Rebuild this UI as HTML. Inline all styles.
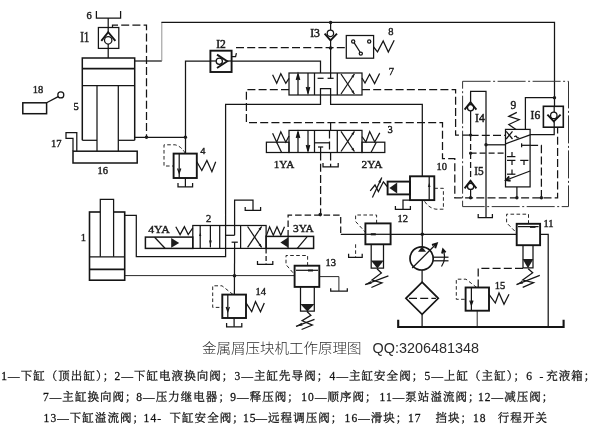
<!DOCTYPE html>
<html lang="zh">
<head>
<meta charset="utf-8">
<title>金属屑压块机工作原理图</title>
<style>
html,body{margin:0;padding:0;background:#fff;}
body{width:600px;height:437px;overflow:hidden;position:relative;}
svg{position:absolute;left:0;top:0;display:block;will-change:transform;}
svg *{vector-effect:none;}
.l{fill:none;stroke:#151515;stroke-width:1.25;stroke-linecap:butt;stroke-linejoin:miter;}
.k{stroke-width:1.9;}
.kk{stroke-width:2.1;}
.th{stroke-width:.95;stroke:#1c1c1c;}
.lt{stroke-width:.8;stroke:#777;}
.i{font-size:13px;stroke-width:.5;}
.ds{stroke-dasharray:3.6 2.4;}
.d{stroke-dasharray:8 3.2;}
.dd{stroke-dasharray:28 2.5 2 2.5;stroke-width:1;stroke:#333;}
.f{fill:#1c1c1c;stroke:none;}
.w{fill:#fff;}
text{fill:#1c1c1c;font-family:"Liberation Serif","Noto Serif CJK SC",serif;font-size:10.5px;stroke:#1c1c1c;stroke-width:.4;}
.cap{font-family:"Liberation Sans","Noto Sans CJK SC",sans-serif;font-size:13.5px;font-weight:300;fill:#2a2a2a;stroke:none;}
.lg{font-family:"Liberation Serif","Noto Serif CJK SC",serif;font-size:11.5px;letter-spacing:1.05px;fill:#111;stroke:#111;stroke-width:.26;}
</style>
</head>
<body>
<svg width="600" height="437" viewBox="0 0 600 437">
<rect x="0" y="0" width="600" height="437" fill="#fff"/>

<!-- ===== upper cylinder 5, tank 6, check valve I1 ===== -->
<g class="l">
<polyline points="96.4,11 96.4,18 120.6,18 120.6,11"/>
<line x1="108.2" y1="18" x2="108.2" y2="32.5"/>
<rect x="98.4" y="27.5" width="20.4" height="20.9"/>
<circle cx="108.2" cy="40.3" r="3.7" class="w"/>
<polyline class="k" points="101.3,40.8 108.2,32.2 115.4,40.8"/>
<line x1="108.2" y1="44" x2="108.2" y2="58"/>
<polyline class="d" points="112.5,27.7 112.5,25.2 146.5,25.2 146.5,137.3"/>
<!-- cylinder -->
<polyline points="82.3,140.3 82.3,58 134.7,58 134.7,140.3" style="stroke-width:1.5"/>
<line class="k" x1="82.3" y1="68.6" x2="134.7" y2="68.6"/>
<line x1="82.3" y1="85.6" x2="134.7" y2="85.6"/>
<line x1="97" y1="85.6" x2="97" y2="151"/>
<line x1="118.3" y1="85.6" x2="118.3" y2="151"/>
<line x1="82.3" y1="140.3" x2="97" y2="140.3"/>
<line x1="118.3" y1="140.3" x2="134.7" y2="140.3"/>
<rect x="73" y="151.2" width="64.2" height="11.8" style="stroke-width:1.5"/>
<polyline points="73,151 73,138.3 66,138.3 66,132.7 76.8,132.7 76.8,151"/>
<!-- 18 limit switch -->
<rect x="22.8" y="102.8" width="23.8" height="10.9" style="stroke-width:1.5"/>
<line x1="46.6" y1="102.8" x2="58.2" y2="96.6"/>
<circle cx="60.8" cy="94.9" r="3"/>
<!-- pipes from cylinder -->
<line x1="134.7" y1="61" x2="161.8" y2="61"/>
<line class="lt" x1="161.8" y1="61" x2="161.8" y2="22.4"/>
<polyline points="161.4,22.4 554.5,22.4 554.5,106.4"/>
<line x1="134.7" y1="137.3" x2="185.4" y2="137.3"/>
<polyline points="185.5,153.6 185.5,61 320.5,61 320.5,73"/>
</g>
<circle class="f" cx="146.5" cy="137.3" r="1.7"/>
<circle class="f" cx="185.4" cy="137.3" r="1.7"/>
<circle class="f" cx="330.6" cy="22.5" r="1.7"/>
<circle class="f" cx="554.5" cy="97.7" r="1.7"/>

<!-- ===== I2 ===== -->
<g class="l">
<rect class="k w" x="210.4" y="50.7" width="21.2" height="21.3"/>
<line x1="210.4" y1="61" x2="216.2" y2="61"/>
<line x1="227" y1="61" x2="231.6" y2="61"/>
<circle cx="219.3" cy="61.2" r="3.1"/>
<polyline class="k" points="217,54.6 227.2,61.2 217,68"/>
<polyline points="231.6,56.6 235.6,56.6 236.4,53.2"/>
<line class="d" x1="236" y1="47.5" x2="346" y2="47.5"/>
</g>

<!-- ===== valve 4 (safety) ===== -->
<g class="l">
<rect class="k" x="173.6" y="153.6" width="23.2" height="24.4"/>
<line x1="179.2" y1="153.6" x2="179.2" y2="178"/>
<polyline points="177.6,168.5 179.2,173 180.8,168.5"/>
<path class="ds th" d="M185.4,153.4 Q181,146 175,144.8 L164,144.8 L164,166 L173.6,166"/>
<line x1="185.4" y1="178" x2="185.4" y2="186.9"/>
<polyline points="178,183 178,186.9 192.6,186.9 192.6,183"/>
<polyline points="196.8,161.7 201.8,170.5 206.9,160.4 211.9,171.7 215.7,161.7"/>
</g>

<!-- ===== I3, pressure relay 8 ===== -->
<g class="l">
<line x1="330.6" y1="22.5" x2="330.6" y2="30"/>
<circle cx="330.4" cy="33.3" r="3.2"/>
<polyline class="k" points="324.6,33.6 330.5,40.4 337,33.6"/>
<line x1="330.6" y1="40.3" x2="330.6" y2="78.3"/>
<rect x="346.3" y="35.5" width="27.3" height="22.7"/>
<circle cx="353.2" cy="41.4" r="1.6"/>
<circle cx="369.2" cy="41.4" r="1.6"/>
<circle cx="360.8" cy="53.6" r="1.6"/>
<line x1="354.2" y1="42.8" x2="360" y2="52"/>
<polyline points="373.6,47 377.5,51.8 383.2,41 388.3,52 394.2,40.2"/>
</g>
<circle class="f" cx="330.6" cy="48" r="1.8"/>

<!-- ===== valve 7 ===== -->
<g class="l">
<rect x="289" y="73" width="73" height="22"/>
<line x1="314.5" y1="73" x2="314.5" y2="95"/>
<line x1="337.3" y1="73" x2="337.3" y2="95"/>
<line x1="298" y1="74.5" x2="298" y2="95"/>
<line x1="308" y1="73" x2="308" y2="93.5"/>
<polyline class="k" points="296.6,80 298,75 299.4,80"/>
<polyline class="k" points="306.6,87 308,92 309.4,87"/>
<line x1="317.6" y1="78.3" x2="323.6" y2="78.3"/>
<line x1="327.6" y1="78.3" x2="333.6" y2="78.3"/>
<polyline points="320.5,95 320.5,88.6 330.6,88.6 330.6,95"/>
<line x1="341" y1="74" x2="354.4" y2="94"/>
<line x1="354.4" y1="74" x2="341" y2="94"/>
<polygon class="f" points="354.4,74.0 351.3,76.3 353.5,77.7"/>
<polygon class="f" points="354.4,94.0 353.5,90.3 351.3,91.7"/>
<polyline points="272.6,74.8 276.7,83.3 280.8,73.7 285.8,83.3 289,78.3"/>
<polyline points="362,78 365,83 369.6,74.3 374.6,83.6 379.6,73.5"/>
<polyline points="320.5,95 320.5,104.4 225.6,104.4 225.6,256.7 136.3,256.7 136.3,215.3 124.7,215.3"/>
<polyline points="330.6,95 330.6,104.4 422.3,104.4 422.3,176.4"/>
<!-- pilot lines -->
<polyline class="d" points="289,89.5 246.4,89.5 246.4,122.7 442.5,122.7 442.5,158.7 454.8,158.7 454.8,197.8 557.6,197.8 557.6,127"/>
<polyline class="d" points="362,89.5 455.6,89.5 455.6,135 470.6,135"/>
<line class="d" x1="330.6" y1="122.7" x2="330.6" y2="130.4"/>
</g>

<!-- ===== valve 3 ===== -->
<g class="l">
<rect x="289" y="130.4" width="73" height="22.1"/>
<line x1="314.5" y1="130.4" x2="314.5" y2="152.5"/>
<line x1="337.3" y1="130.4" x2="337.3" y2="152.5"/>
<line x1="298" y1="132" x2="298" y2="152.5"/>
<line x1="308" y1="130.4" x2="308" y2="151"/>
<polyline class="k" points="296.6,138 298,133 299.4,138"/>
<polyline class="k" points="306.6,145 308,150 309.4,145"/>
<line x1="314.5" y1="142.8" x2="329.5" y2="142.8"/>
<line class="d" x1="329.5" y1="130.4" x2="329.5" y2="152.5"/>
<line x1="318" y1="147" x2="323.2" y2="147"/>
<line x1="320.6" y1="147" x2="320.6" y2="152.5"/>
<line x1="341" y1="131.4" x2="354.4" y2="151.5"/>
<line x1="354.4" y1="131.4" x2="341" y2="151.5"/>
<polygon class="f" points="354.4,131.4 351.3,133.7 353.5,135.1"/>
<polygon class="f" points="354.4,151.5 353.5,147.8 351.3,149.2"/>
<rect x="266.4" y="142.2" width="22.6" height="10.3"/>
<rect x="362" y="142.2" width="22.8" height="10.3"/>
<polyline points="272.6,133.2 276.7,142.2 280.8,131.8 285.8,142.2 289,136"/>
<line x1="276.7" y1="142.2" x2="281.6" y2="152.5"/>
<polyline points="362,136.6 365.9,142 369.7,131.6 374.7,142 379.8,132.9"/>
<line x1="376.3" y1="142.2" x2="371" y2="152.5"/>
<line class="d" x1="320.6" y1="152.5" x2="320.6" y2="214.5"/>
<line class="d" x1="330.6" y1="152.5" x2="330.6" y2="166.9"/>
<polyline points="323,163 323,166.9 338.2,166.9 338.2,163"/>
</g>
<circle class="f" cx="320.3" cy="214.6" r="1.8"/>

<!-- ===== valve 10 (sequence) ===== -->
<g class="l">
<rect class="k" x="410" y="176.3" width="24.3" height="23.8"/>
<line x1="429.2" y1="176.3" x2="429.2" y2="200.1"/>
<polygon class="f" points="427.9,187 430.5,187 429.2,182.6"/>
<line x1="422.3" y1="200.1" x2="422.3" y2="247"/>
<rect class="k" x="387.6" y="181.6" width="22.4" height="12.8"/>
<polygon class="f" points="389.4,188 397.2,182.4 397.2,193.6"/>
<polyline points="387.6,187 383.4,181.8 378.4,191.6 375,185 370.2,190.8"/>
<line x1="381.8" y1="177.4" x2="372.4" y2="197.6"/>
<polygon class="f" points="381.8,177.4 378.3,181.8 380.7,182.9"/>
<polyline points="410,200.1 403,200.1 403,209.3"/>
<polyline points="395.4,206 395.4,209.3 410.4,209.3 410.4,206"/>
<path class="ds th" d="M434.3,188.3 L443.4,188.3 L443.4,209.2 L436,209.2 Q428.6,208 424.4,201"/>
</g>
<circle class="f" cx="422.3" cy="234.3" r="1.8"/>

<!-- ===== right block: I4 I5 9 I6 ===== -->
<g class="l">
<rect class="dd" x="462.6" y="81.3" width="105.9" height="125.3"/>
<polyline points="470.6,102.2 470.6,91.3 486,91.3 486,217.5"/>
<circle cx="470.6" cy="107.7" r="3.1"/>
<polyline class="k" points="464.6,109.6 470.5,102.2 476.4,109.6"/>
<line x1="470.6" y1="110.8" x2="470.6" y2="135"/>
<line class="d" x1="470.6" y1="135" x2="470.6" y2="180.6" style="stroke-dasharray:6 3"/>
<circle cx="470.6" cy="186.4" r="3.1"/>
<polyline class="k" points="464.6,188.3 470.5,180.8 476.4,188.3"/>
<line x1="470.6" y1="189.5" x2="470.6" y2="197.8"/>
<line x1="486" y1="144.8" x2="505.5" y2="144.8"/>
<line class="d" x1="470.6" y1="153.2" x2="505.5" y2="153.2" style="stroke-dasharray:6 3"/>
<line class="d" x1="470.6" y1="135.3" x2="505.5" y2="135.3"/>
<polyline points="478.2,214 478.2,217.5 492.4,217.5 492.4,214"/>
<!-- valve 9 -->
<rect x="505.5" y="129.4" width="24.6" height="57.5"/>
<polyline points="516,129.4 508.8,124.5 519.2,119.7 508.8,116.4 516.8,112.4"/>
<line x1="505.6" y1="143.8" x2="530.1" y2="134.9"/>
<line x1="506.2" y1="131.3" x2="512.5" y2="139"/>
<line x1="512.5" y1="131.3" x2="506.2" y2="139"/>
<path d="M514.2,136.8 Q516.6,135.2 517,137.6 L519.2,138"/>
<line x1="521.6" y1="143.3" x2="521.6" y2="147.3"/>
<line x1="521.6" y1="145.3" x2="530.1" y2="145.3"/>
<line x1="512" y1="152" x2="512" y2="156.6"/><line x1="507" y1="156.6" x2="515.4" y2="156.6"/>
<line x1="512" y1="160.4" x2="512" y2="165"/><line x1="507" y1="160.4" x2="515.4" y2="160.4"/>
<line x1="524" y1="160.4" x2="524" y2="165"/><line x1="520.2" y1="160.4" x2="528.4" y2="160.4"/>
<line x1="512" y1="169.6" x2="512" y2="174.2"/><line x1="507" y1="174.2" x2="515.4" y2="174.2"/>
<line x1="505.6" y1="180.2" x2="530.1" y2="171"/>
<polyline class="k" points="509.2,176.4 506,180 510.6,180.8"/>
<line x1="516.9" y1="186.9" x2="516.9" y2="197.8"/>
<polyline class="d" points="530.1,145.3 541.4,145.3 541.4,197.8"/>
<!-- I6 -->
<polyline points="525.4,129.4 525.4,97.7 554.3,97.7"/>
<rect class="w" x="543.4" y="106.3" width="19.9" height="20.9" style="stroke-width:1.6"/>
<line x1="554.2" y1="106.3" x2="554.2" y2="112"/>
<circle cx="553.8" cy="115.4" r="3.2"/>
<polyline class="k" points="547.4,114.6 553.8,121.4 560.6,114.6"/>
<polyline points="554.2,121.4 554.2,134.7 530.1,134.7"/>
</g>
<circle class="f" cx="470.6" cy="135" r="1.6"/>
<circle class="f" cx="470.6" cy="153.2" r="1.6"/>
<circle class="f" cx="486" cy="144.8" r="1.7"/>
<circle class="f" cx="470.6" cy="197.8" r="1.7"/>
<circle class="f" cx="516.9" cy="197.8" r="1.7"/>
<circle class="f" cx="541.4" cy="197.8" r="1.7"/>

<!-- ===== valve 11 (right relief) ===== -->
<g class="l">
<line x1="340.8" y1="234.3" x2="516.7" y2="234.3"/>
<rect class="k w" x="516.7" y="223.8" width="23.4" height="21.4"/>
<line x1="518" y1="226.6" x2="538.6" y2="226.6"/>
<line class="k" x1="530" y1="226.9" x2="535.5" y2="226.9"/>
<polyline class="ds th" points="528.5,223.8 528.5,214.2 506.6,214.2 506.6,222.8 516.7,233"/>
<polyline points="540.1,234.3 548.2,234.3 548.2,326.5"/>
<polyline points="523,245.2 523,267.8 533,267.8 533,245.2"/>
<polygon class="f" points="522.6,259 533.4,259 528,268.2"/>
<polyline points="528.2,268.8 532.7,272.8 522.7,280 533.6,282.6 522.7,287.4"/>
<line x1="516.5" y1="284.6" x2="539.8" y2="275.4"/>
<polygon class="f" points="516.5,284.6 523.1,283.6 522.0,280.8"/>
<polyline class="d" points="523,268.4 478.2,268.4 478.2,287.5"/>
</g>

<!-- ===== valve 15 ===== -->
<g class="l">
<rect class="k" x="465.6" y="287.5" width="23.4" height="23.2"/>
<line x1="471.4" y1="287.5" x2="471.4" y2="310.7"/>
<polyline points="469.8,300.5 471.4,305 473,300.5"/>
<path class="ds th" d="M476.6,287.4 L466,279.2 L456.3,279.2 L456.3,299.3 L465.6,299.3"/>
<polyline points="489,294.3 495.3,303 499,293 504,304.3 509,294.3"/>
<line class="th" x1="477.2" y1="310.7" x2="477.2" y2="326.5"/>
<polyline class="kk" points="398.2,319.8 398.2,327 563.6,327 563.6,319.8"/>
</g>

<!-- ===== pump + filter ===== -->
<g class="l">
<circle class="w" cx="421.6" cy="258.4" r="11.6" style="stroke-width:1.7"/>
<polygon class="f" points="422,246.4 418,251.8 426,251.8"/>
<line x1="412.2" y1="268" x2="436.4" y2="243.8"/>
<polyline class="k" points="432,245 436.8,243.4 435.2,248.2"/>
<line x1="433.2" y1="257.2" x2="448.5" y2="257.2"/>
<line x1="433.2" y1="260.8" x2="448.5" y2="260.8"/>
<path d="M441.5,266.5 Q446.5,259 443.2,250"/>
<polyline class="k" points="442,253.4 443,249.4 445.6,252.4"/>
<line x1="422.1" y1="270.1" x2="422.1" y2="282.2"/>
<polygon points="422.1,282.2 438.3,298.3 422.1,314.4 405.9,298.3" style="stroke-width:1.7"/>
<line class="d" x1="409" y1="298.3" x2="436" y2="298.3"/>
<line x1="422.1" y1="314.4" x2="422.1" y2="326.5"/>
</g>

<!-- ===== valve 12 (middle) ===== -->
<g class="l">
<rect class="k w" x="365.4" y="223.4" width="25.2" height="20.9"/>
<line x1="365.4" y1="234.3" x2="390.6" y2="234.3"/>
<line class="kk" x1="370.8" y1="234.3" x2="375.8" y2="234.3"/>
<polyline class="ds th" points="376.6,223.4 376.6,215 355.6,215 355.6,221.5 365.4,232.2"/>
<polyline class="d" points="288.1,236.6 288.1,215.1 340.7,215.1 340.7,234.3" style="stroke-dasharray:6.5 3"/>
<polyline points="371.2,244.3 371.2,268 383.5,268 383.5,244.3"/>
<polygon class="f" points="371,260.6 383.7,260.6 377.4,268.4"/>
<polyline points="377,268.7 381.4,273 372,280 382,282.8 371.4,287.5"/>
<line x1="365.1" y1="284.7" x2="388.4" y2="275.8"/>
<polygon class="f" points="365.1,284.7 371.7,283.8 370.6,281.0"/>
<line class="ds th" x1="355.6" y1="244.3" x2="355.6" y2="257"/>
<polyline points="348.6,253.8 348.6,257.3 362.2,257.3 362.2,253.8"/>
</g>

<!-- ===== valve 13 ===== -->
<g class="l">
<line class="th" x1="124.7" y1="275.6" x2="294.6" y2="275.6"/>
<rect class="k w" x="294.6" y="265.7" width="24.7" height="21.2"/>
<line x1="296" y1="270.3" x2="318" y2="270.3"/>
<line class="k" x1="308" y1="270.5" x2="313" y2="270.5"/>
<path class="ds th" d="M307.6,265.7 L307.6,255.5 L286,255.5 L286,264.6 L294.6,274.6"/>
<polyline points="300.5,286.9 300.5,311.2 314.3,311.2 314.3,286.9"/>
<polygon class="f" points="300.3,304 314.5,304 307.4,311.6"/>
<polyline points="307,311.5 310.9,315.4 302.1,320.7 312.4,325.1 301.6,329.5"/>
<line x1="296.0" y1="326.4" x2="314.5" y2="319.4"/>
<polygon class="f" points="296.0,326.4 302.6,325.5 301.5,322.7"/>
<polyline class="th" points="319.3,276.6 338.9,276.6 338.9,291"/>
<polyline points="330.7,288.2 330.7,291 347.3,291 347.3,288.2"/>
</g>

<!-- ===== valve 14 ===== -->
<g class="l">
<line x1="234.6" y1="248.4" x2="234.4" y2="294.6"/>
<rect class="k w" x="222.3" y="294.6" width="23.7" height="23.4"/>
<line x1="227.8" y1="294.6" x2="227.8" y2="318"/>
<polyline points="226.2,307 227.8,311.5 229.4,307"/>
<path class="ds th" d="M233,294.5 L222,285.8 L212.7,285.8 L212.7,307.4 L222.3,307.4"/>
<polyline points="246,302.9 251.7,311.7 255.5,301.6 260.5,311.7 264.3,302.9"/>
<line x1="234.1" y1="318" x2="234.1" y2="326.8"/>
<polyline points="226.6,323 226.6,326.8 241.8,326.8 241.8,323"/>
</g>
<circle class="f" cx="234.5" cy="275.8" r="1.8"/>

<!-- ===== lower cylinder 1 ===== -->
<g class="l">
<rect x="89.5" y="212" width="35.2" height="68.2" style="stroke-width:1.6"/>
<polyline class="w" points="100.3,256.8 100.3,199.4 113.6,199.4 113.6,256.8"/>
<line x1="89.5" y1="256.8" x2="124.7" y2="256.8"/>
<line class="k" x1="89.5" y1="269.4" x2="124.7" y2="269.4"/>
</g>

<!-- ===== valve 2 ===== -->
<g class="l">
<rect x="192.8" y="225.5" width="73.3" height="22.9"/>
<line x1="219.7" y1="225.5" x2="219.7" y2="248.4"/>
<line x1="240.6" y1="225.5" x2="240.6" y2="248.4"/>
<line x1="200.2" y1="225.5" x2="200.2" y2="248.4"/>
<line x1="210.4" y1="225.5" x2="210.4" y2="247.4"/>
<polygon class="f" points="199.1,236 201.3,236 200.2,232.6"/>
<polygon class="f" points="209,240.6 211.8,240.6 210.4,245.4"/>
<line x1="225.6" y1="235.3" x2="234.6" y2="235.3"/>
<polyline points="234.6,235.3 234.6,200 253,200 253,210.3"/>
<polyline points="245.2,207 245.2,210.3 260.6,210.3 260.6,207"/>
<line x1="231.6" y1="242.2" x2="237.8" y2="242.2"/>
<line x1="234.6" y1="242.2" x2="234.6" y2="248.4"/>
<line x1="247.6" y1="226.5" x2="261.6" y2="247.4"/>
<line x1="261.6" y1="226.5" x2="247.6" y2="247.4"/>
<polygon class="f" points="261.6,226.5 258.5,228.8 260.7,230.2"/>
<polygon class="f" points="261.6,247.4 260.7,243.7 258.5,245.1"/>
<!-- 3YA -->
<polyline points="266.1,236.4 269.6,226.8 273.3,235.2 277,226.8 280.8,235.2 284.5,226.8"/>
<rect x="266.1" y="236.4" width="47.5" height="12" style="stroke-width:1.5"/>
<line x1="288.1" y1="236.4" x2="288.1" y2="248.4"/>
<polygon class="f" points="280.4,242.4 288.1,237.4 288.1,247.4"/>
<line x1="297.3" y1="248.4" x2="307" y2="236.8"/>
<!-- 4YA -->
<rect x="145.4" y="237.1" width="47.4" height="11.3" style="stroke-width:1.5"/>
<line x1="154.6" y1="237.3" x2="165" y2="248.3"/>
<polygon class="f" points="171.2,238 171.2,247.8 179.2,242.9"/>
<polyline points="175.8,226.7 180.1,234.6 184.4,226.7 188.2,234.6 192.8,227.8"/>
<line class="d" x1="266.1" y1="248.4" x2="266.1" y2="264.3" style="stroke-dasharray:5 2.5"/>
<polyline points="257.5,261 257.5,264.3 272.8,264.3 272.8,261"/>
</g>

<!-- ===== number labels ===== -->
<g>
<text x="86.6" y="18.9">6</text>
<text class="i" x="80.2" y="41.7" style="font-size:14px" textLength="9.2" lengthAdjust="spacingAndGlyphs">I1</text>
<text x="73.4" y="110.3">5</text>
<text x="51.1" y="146.9">17</text>
<text x="97.4" y="174.3">16</text>
<text x="32.8" y="93.4">18</text>
<text class="i" x="216.2" y="47.7" style="font-size:11.5px" textLength="9.6" lengthAdjust="spacingAndGlyphs">I2</text>
<text x="200.3" y="154" style="font-family:'Liberation Sans',sans-serif;font-size:9.5px">4</text>
<text class="i" x="310.2" y="37" style="font-size:12px" textLength="9.8" lengthAdjust="spacingAndGlyphs">I3</text>
<text x="388.2" y="35">8</text>
<text x="388.8" y="74.8">7</text>
<text x="273.8" y="167.6" textLength="20.4" lengthAdjust="spacingAndGlyphs">1YA</text>
<text x="361.6" y="167.8" textLength="20.8" lengthAdjust="spacingAndGlyphs">2YA</text>
<text x="387.4" y="133.4">3</text>
<text x="436.4" y="170.4">10</text>
<text x="397.6" y="222.4">12</text>
<text class="i" x="475" y="122.1" textLength="9.8" lengthAdjust="spacingAndGlyphs">I4</text>
<text class="i" x="474.2" y="175.1" textLength="9.4" lengthAdjust="spacingAndGlyphs">I5</text>
<text class="i" x="530.6" y="118.8" textLength="9.6" lengthAdjust="spacingAndGlyphs">I6</text>
<text x="510.6" y="109.3" style="font-size:11.5px">9</text>
<text x="543.4" y="226.6">11</text>
<text x="494.8" y="289">15</text>
<text x="325.4" y="265.6">13</text>
<text x="255.4" y="295">14</text>
<text x="293" y="232.4" textLength="20.8" lengthAdjust="spacingAndGlyphs">3YA</text>
<text x="148.2" y="233.4" textLength="21.6" lengthAdjust="spacingAndGlyphs">4YA</text>
<text x="206" y="221.9">2</text>
<text x="80.8" y="240.8">1</text>
</g>

<!-- ===== caption and legend ===== -->
<text class="cap" x="202" y="353" textLength="159.5" lengthAdjust="spacingAndGlyphs">金属屑压块机工作原理图</text>
<text class="cap" x="372.6" y="353.3" textLength="106.5" lengthAdjust="spacingAndGlyphs" style="font-size:14px">QQ:3206481348</text>
<text class="lg" y="380.2"><tspan x="1.3">1—下缸（顶出缸）；</tspan><tspan x="114.6">2—下缸电液换向阀；</tspan><tspan x="234.6">3—主缸先导阀；</tspan><tspan x="329.6">4—主缸安全阀；</tspan><tspan x="424.6">5—上缸（主缸）；</tspan><tspan x="526.3">6</tspan><tspan x="539.5">-</tspan><tspan x="546.2">充液箱；</tspan></text>
<text class="lg" y="400.8"><tspan x="43">7—主缸换向阀；</tspan><tspan x="136.3">8—压力继电器；</tspan><tspan x="230.3">9—释压阀；</tspan><tspan x="301.3">10—顺序阀；</tspan><tspan x="379.6">11—泵站溢流阀；</tspan><tspan x="478">12—减压阀；</tspan></text>
<text class="lg" y="422"><tspan x="43.6">13—下缸溢流阀；</tspan><tspan x="143.6">14-</tspan><tspan x="169.5">下缸安全阀；</tspan><tspan x="243">15</tspan><tspan x="255.5">—远程调压阀；</tspan><tspan x="344.6">16—滑块；</tspan><tspan x="408">17</tspan><tspan x="435.5">挡块；</tspan><tspan x="473">18</tspan><tspan x="497.8">行程开关</tspan></text>
</svg>
</body>
</html>
